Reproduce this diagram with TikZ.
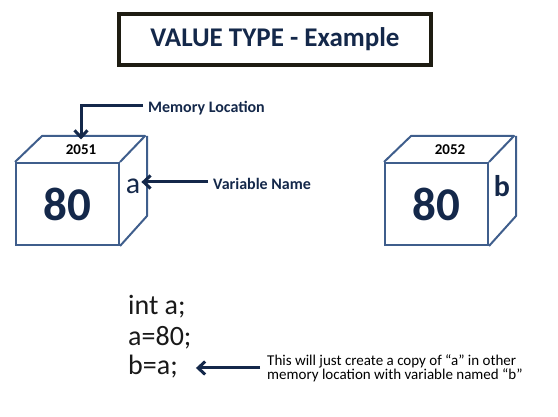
\documentclass[tikz,border=0pt]{standalone}
\usepackage{fontspec}
\setmainfont{Carlito}
\usepackage{xcolor}
\usetikzlibrary{arrows.meta}
\definecolor{navy}{HTML}{14284A}
\definecolor{cubeblue}{HTML}{3F5E8C}
\definecolor{titleframe}{HTML}{1E1C12}
\newcommand{\fsz}[1]{\fontsize{#1}{#1}\selectfont}
\newcommand{\drawMemCube}[6]{% name, front top-left: x,y, address, value, variable
  \node[cubeface] (#1) at (#2+51.5, #3+41) {\fsz{47}\bfseries #5};
  \draw[cubeline] (#1.north west) -- ++(27,-26) -- ++(103,0) -- (#1.north east);
  \draw[cubeline] (#1.north east) ++(27,-26) -- ++(0,80) -- (#1.south east);
  \node[font=\fsz{15}\bfseries] (#1-addr) at (#2+65, #3-13) {#4};
  \node[font=\fsz{30}, text=navy, inner sep=1pt] (#1-var) at (#2+117, #3+23) {#6};
}

\begin{document}
\begin{tikzpicture}[x=1pt,y=-1pt,>={Straight Barb[length=7pt,width=13pt]}]
\tikzset{
  cubeface/.style={draw=cubeblue, line width=2pt, minimum width=103pt,
    minimum height=82pt, inner sep=0pt, text=navy},
  cubeline/.style={draw=cubeblue, line width=2pt, line join=round},
  pointer/.style={->, draw=navy, line width=3pt, shorten <=5pt},
  label/.style={font=\fsz{16}\bfseries, text=navy, anchor=west, inner sep=0pt},
  code/.style={font=\fsz{28}, text=black!90, anchor=base west, inner sep=0pt}
}
\useasboundingbox (0,0) rectangle (558,417);

% Title
\node[draw=titleframe, line width=4.5pt, minimum width=312pt, minimum height=51pt,
  font=\fsz{27}\bfseries, text=navy] (title) at (275,39.5) {VALUE TYPE - Example};

% Memory cells
\drawMemCube{cella}{16}{163}{2051}{80}{a}
\drawMemCube{cellb}{385}{163}{2052}{80}{\bfseries b}

% Pointers to cell a
\node[label] (memloc) at (148,108) {Memory Location};
\draw[pointer] ([yshift=2pt]memloc.west) -| ([yshift=2pt]cella-addr.north);
\node[label] (varname) at (213,184) {Variable Name};
\draw[pointer] ([yshift=2pt]varname.west) -- ([yshift=2pt]varname.west -| cella-var.east);

% Code
\node[code] (line1) at (128,315) {int a;};
\node[code] (line2) at (128,345) {a=80;};
\node[code] (line3) at (128,375) {b=a;};

\node[font=\fsz{15}, align=left, anchor=west, inner sep=0pt] (note) at (267,368)
  {This will just create a copy of “a” in other\\[-1pt]memory location with variable named “b”};
\draw[pointer, shorten <=7pt, shorten >=18pt] (note.west) -- (note.west -| line3.east);
\end{tikzpicture}
\end{document}
